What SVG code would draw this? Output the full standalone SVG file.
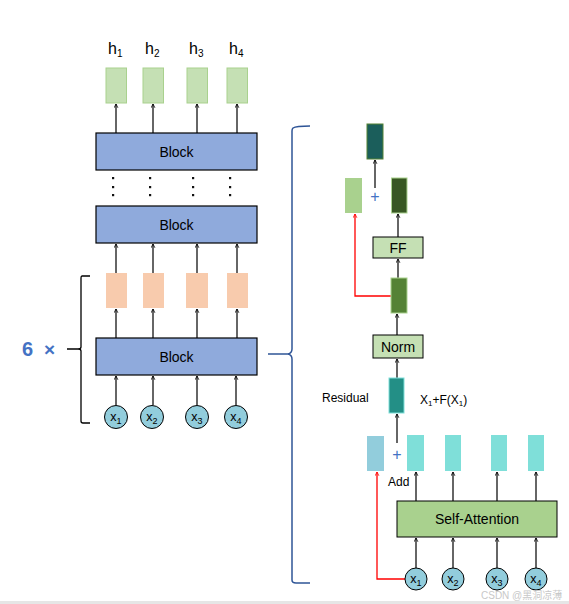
<svg xmlns="http://www.w3.org/2000/svg" width="569" height="604" viewBox="0 0 569 604">
<defs>
<marker id="ah" viewBox="0 0 8 8" refX="7" refY="4" markerWidth="5" markerHeight="5" orient="auto-start-reverse" markerUnits="userSpaceOnUse">
<path d="M1,1 L7,4 L1,7" fill="none" stroke="#000" stroke-width="1.3"/>
</marker>
<marker id="ahr" viewBox="0 0 8 8" refX="7" refY="4" markerWidth="5" markerHeight="5" orient="auto-start-reverse" markerUnits="userSpaceOnUse">
<path d="M1,1 L7,4 L1,7" fill="none" stroke="#ff0000" stroke-width="1.3"/>
</marker>
</defs>
<style>
text{font-family:"Liberation Sans",Arial,sans-serif;fill:#000}
.blk{fill:#8faadc;stroke:#000;stroke-width:1.2}
.h{fill:#c5e0b4;stroke:#a9d18e;stroke-width:1}
.o{fill:#f8cbad;stroke:none}
.c{fill:#92cddc;stroke:#000;stroke-width:1}
.arr{stroke:#333;stroke-width:1.5;fill:none;marker-end:url(#ah)}
.red{stroke:#ff0000;stroke-width:1.3;fill:none;marker-end:url(#ahr)}
.br{stroke:#2f5597;stroke-width:1.5;fill:none}
.dot{fill:#111}
</style>
<rect width="569" height="604" fill="#fff"/>

<!-- connectors -->
<g id="connectors">
<line class="arr" x1="116" y1="133" x2="116" y2="104"/>
<line class="arr" x1="153" y1="133" x2="153" y2="104"/>
<line class="arr" x1="197" y1="133" x2="197" y2="104"/>
<line class="arr" x1="237" y1="133" x2="237" y2="104"/>
<line class="arr" x1="116" y1="273" x2="116" y2="244"/>
<line class="arr" x1="153" y1="273" x2="153" y2="244"/>
<line class="arr" x1="197" y1="273" x2="197" y2="244"/>
<line class="arr" x1="237" y1="273" x2="237" y2="244"/>
<line class="arr" x1="116" y1="338" x2="116" y2="309"/>
<line class="arr" x1="153" y1="338" x2="153" y2="309"/>
<line class="arr" x1="197" y1="338" x2="197" y2="309"/>
<line class="arr" x1="237" y1="338" x2="237" y2="309"/>
<line class="arr" x1="116" y1="405" x2="116" y2="376"/>
<line class="arr" x1="153" y1="405" x2="153" y2="376"/>
<line class="arr" x1="197" y1="405" x2="197" y2="376"/>
<line class="arr" x1="236" y1="405" x2="236" y2="376"/>

<line class="arr" x1="375" y1="188" x2="375" y2="160"/>
<line class="arr" x1="398" y1="237" x2="398" y2="214"/>
<line class="arr" x1="398" y1="278" x2="398" y2="259"/>
<line class="arr" x1="397" y1="335" x2="397" y2="314"/>
<line class="arr" x1="397" y1="378" x2="397" y2="359"/>
<line class="arr" x1="397" y1="443" x2="397" y2="414"/>
<polyline class="red" points="391,296 355,296 355,214"/>

<line class="arr" x1="416" y1="501" x2="416" y2="472"/>
<line class="arr" x1="453" y1="501" x2="453" y2="472"/>
<line class="arr" x1="497" y1="501" x2="497" y2="472"/>
<line class="arr" x1="536" y1="501" x2="536" y2="472"/>
<line class="arr" x1="416" y1="568" x2="416" y2="538"/>
<line class="arr" x1="453" y1="568" x2="453" y2="538"/>
<line class="arr" x1="497" y1="568" x2="497" y2="538"/>
<line class="arr" x1="536" y1="568" x2="536" y2="538"/>
<polyline class="red" points="405,579 377,579 377,472"/>
</g>

<!-- left stack -->
<g id="h-labels">
<text x="108" y="54" font-size="16">h<tspan font-size="10" dy="3">1</tspan></text>
<text x="145" y="54" font-size="16">h<tspan font-size="10" dy="3">2</tspan></text>
<text x="189" y="54" font-size="16">h<tspan font-size="10" dy="3">3</tspan></text>
<text x="229" y="54" font-size="16">h<tspan font-size="10" dy="3">4</tspan></text>
</g>
<g id="h-boxes">
<rect class="h" x="106" y="68" width="20.5" height="35"/>
<rect class="h" x="143" y="68" width="20.5" height="35"/>
<rect class="h" x="187" y="68" width="20.5" height="35"/>
<rect class="h" x="227" y="68" width="20.5" height="35"/>
</g>
<g id="block-top">
<rect class="blk" x="96" y="133" width="161" height="37"/>
<text x="176.5" y="157" font-size="14" text-anchor="middle">Block</text>
</g>
<g id="dots">
<rect class="dot" x="112" y="177" width="2.2" height="2.2"/>
<rect class="dot" x="112" y="186" width="2.2" height="2.2"/>
<rect class="dot" x="112" y="194" width="2.2" height="2.2"/>
<rect class="dot" x="149" y="177" width="2.2" height="2.2"/>
<rect class="dot" x="149" y="186" width="2.2" height="2.2"/>
<rect class="dot" x="149" y="194" width="2.2" height="2.2"/>
<rect class="dot" x="192" y="177" width="2.2" height="2.2"/>
<rect class="dot" x="192" y="186" width="2.2" height="2.2"/>
<rect class="dot" x="192" y="194" width="2.2" height="2.2"/>
<rect class="dot" x="229" y="177" width="2.2" height="2.2" fill="#5a3a10"/>
<rect class="dot" x="229" y="186" width="2.2" height="2.2" fill="#5a3a10"/>
<rect class="dot" x="229" y="194" width="2.2" height="2.2" fill="#5a3a10"/>
</g>
<g id="block-mid">
<rect class="blk" x="96" y="206" width="161" height="37"/>
<text x="176.5" y="230" font-size="14" text-anchor="middle">Block</text>
</g>
<g id="o-boxes">
<rect class="o" x="106" y="273" width="21" height="35"/>
<rect class="o" x="143" y="273" width="21" height="35"/>
<rect class="o" x="186" y="273" width="22" height="35"/>
<rect class="o" x="227" y="273" width="21" height="35"/>
</g>
<g id="block-bottom">
<rect class="blk" x="96" y="338" width="161" height="37"/>
<text x="176.5" y="362" font-size="14" text-anchor="middle">Block</text>
</g>
<g id="x-inputs-left">
<circle class="c" cx="116" cy="417" r="11.5"/>
<text x="116" y="421" font-size="12.5" text-anchor="middle">x<tspan font-size="9" dy="3">1</tspan></text>
<circle class="c" cx="152" cy="417" r="11.5"/>
<text x="152" y="421" font-size="12.5" text-anchor="middle">x<tspan font-size="9" dy="3">2</tspan></text>
<circle class="c" cx="197" cy="417" r="11.5"/>
<text x="197" y="421" font-size="12.5" text-anchor="middle">x<tspan font-size="9" dy="3">3</tspan></text>
<circle class="c" cx="236" cy="417" r="11.5"/>
<text x="236" y="421" font-size="12.5" text-anchor="middle">x<tspan font-size="9" dy="3">4</tspan></text>
</g>
<g id="brace-left">
<path d="M90,276 L82,276 Q81,276 81,278 L81,347 Q81,349 78,349 L67,349 M78,349 Q81,349 81,351 L81,421 Q81,423 83,423 L90,423" fill="none" stroke="#000" stroke-width="1.3"/>
<text x="22" y="356" font-size="20" font-weight="bold" style="fill:#4472c4">6</text>
<text x="44" y="356" font-size="19" font-weight="bold" style="fill:#4472c4">×</text>
</g>

<!-- right detail -->
<g id="brace-right">
<path class="br" d="M310,126 Q296,126 293,128 Q292,129 292,131 L292,349 Q292,353 288,354 L268,354 M288,354 Q292,355 292,359 L292,580 Q292,583 296,583 L310,583"/>
</g>
<g id="out-box">
<rect x="367" y="124" width="16" height="35" fill="#1b5e5b" stroke="#548235" stroke-width="1"/>
</g>
<g id="res-ff">
<rect x="345" y="178" width="17" height="35" fill="#a9d18e"/>
</g>
<g id="plus-top"><text x="375" y="202" font-size="16" text-anchor="middle" style="fill:#4472c4">+</text></g>
<g id="ff-out">
<rect x="391.5" y="178" width="15.5" height="35" fill="#385723" stroke="#a9d18e" stroke-width="1"/>
</g>
<g id="ff">
<rect x="373" y="237" width="50" height="21" fill="#c5e0b4" stroke="#000" stroke-width="1"/>
<text x="398" y="253" font-size="14" text-anchor="middle">FF</text>
</g>
<g id="norm-out">
<rect x="391" y="278" width="16" height="35" fill="#548235" stroke="#a9d18e" stroke-width="1"/>
</g>
<g id="norm">
<rect x="373" y="335" width="50" height="23" fill="#c5e0b4" stroke="#000" stroke-width="1"/>
<text x="398" y="352" font-size="14" text-anchor="middle">Norm</text>
</g>
<g id="residual">
<rect x="389" y="378" width="15" height="35" fill="#238f86" stroke="#7fdfd9" stroke-width="1"/>
<text x="322" y="402" font-size="12">Residual</text>
<text x="420" y="404" font-size="12">X<tspan font-size="8" dy="2">1</tspan><tspan dy="-2">+F(X</tspan><tspan font-size="8" dy="2">1</tspan><tspan dy="-2">)</tspan></text>
</g>
<g id="skip-box">
<rect x="367" y="436" width="17" height="35" fill="#92cddc"/>
</g>
<g id="plus-bottom"><text x="397" y="460" font-size="16" text-anchor="middle" style="fill:#4472c4">+</text></g>
<g id="attn-outs">
<rect x="407" y="435" width="17" height="36" fill="#7fdfd9"/>
<rect x="445" y="435" width="16" height="36" fill="#7fdfd9"/>
<rect x="491" y="435" width="16" height="36" fill="#7fdfd9"/>
<rect x="528" y="435" width="16" height="36" fill="#7fdfd9"/>
<text x="388" y="486" font-size="12">Add</text>
</g>
<g id="self-attention">
<rect x="397" y="501" width="160" height="36" fill="#a9d18e" stroke="#000" stroke-width="1"/>
<text x="477" y="524" font-size="14" text-anchor="middle">Self-Attention</text>
</g>
<g id="x-inputs-right">
<circle class="c" cx="416" cy="579" r="11"/>
<text x="416" y="583" font-size="12.5" text-anchor="middle">x<tspan font-size="9" dy="3">1</tspan></text>
<circle class="c" cx="453" cy="579" r="11"/>
<text x="453" y="583" font-size="12.5" text-anchor="middle">x<tspan font-size="9" dy="3">2</tspan></text>
<circle class="c" cx="497" cy="579" r="11"/>
<text x="497" y="583" font-size="12.5" text-anchor="middle">x<tspan font-size="9" dy="3">3</tspan></text>
<circle class="c" cx="536" cy="579" r="11"/>
<text x="536" y="583" font-size="12.5" text-anchor="middle">x<tspan font-size="9" dy="3">4</tspan></text>
</g>
<g id="watermark">
<text x="481" y="599" font-size="10" style="fill:#c8c8c8;font-family:'Liberation Sans','Noto Sans CJK SC',sans-serif">CSDN @黑洞凉薄</text>
<rect x="0" y="601" width="569" height="3" fill="#e6e6e6"/>
</g>
</svg>
